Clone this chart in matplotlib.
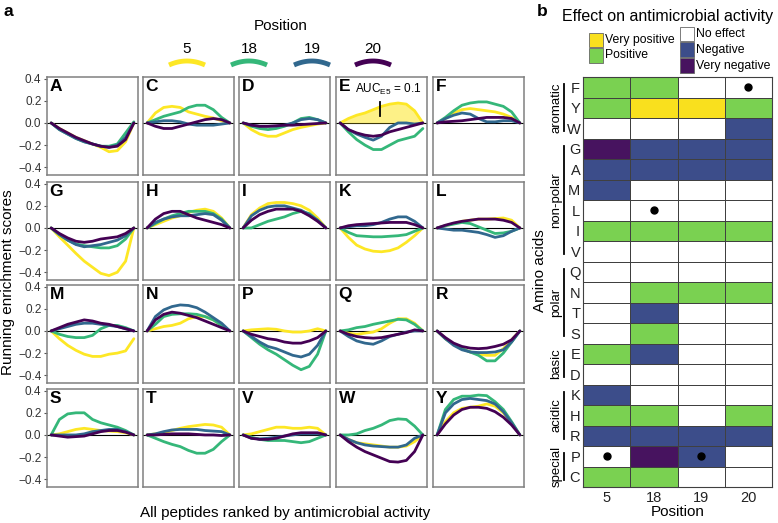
import numpy as np
import matplotlib
matplotlib.use("Agg")
import matplotlib.pyplot as plt
from matplotlib.colors import ListedColormap
from matplotlib.patches import Rectangle

plt.rcParams['font.family'] = ['Liberation Sans', 'DejaVu Sans']
plt.rcParams['mathtext.default'] = 'regular'

W, H = 778, 523

## ---------------- data : panel a (running enrichment scores) ----------------
residues  = ["A", "C", "D", "E", "F", "G", "H", "I", "K", "L",
             "M", "N", "P", "Q", "R", "S", "T", "V", "W", "Y"]
positions = ["5", "18", "19", "20"]
pos_colors = ["#FDE725", "#35B779", "#31688E", "#440154"]
rank = [0.0, 0.1, 0.2, 0.3, 0.4, 0.5, 0.6, 0.7, 0.8, 0.9, 1.0]

curve_5 = {
    "A": [0, -0.05, -0.09, -0.13, -0.16, -0.19, -0.22, -0.26, -0.25, -0.17, 0],
    "C": [0, 0.09, 0.14, 0.15, 0.14, 0.10, 0.08, 0.06, 0.045, 0.02, 0],
    "D": [0, -0.06, -0.10, -0.12, -0.12, -0.09, -0.06, -0.04, -0.025, -0.01, 0],
    "E": [0, 0.04, 0.07, 0.09, 0.12, 0.15, 0.17, 0.18, 0.17, 0.11, 0],
    "F": [0, 0.04, 0.09, 0.12, 0.13, 0.12, 0.11, 0.10, 0.08, 0.05, 0],
    "G": [0, -0.08, -0.155, -0.23, -0.30, -0.355, -0.41, -0.43, -0.40, -0.30, 0],
    "H": [0, 0.03, 0.06, 0.09, 0.11, 0.14, 0.16, 0.17, 0.15, 0.09, 0],
    "I": [0, 0.12, 0.18, 0.22, 0.23, 0.23, 0.22, 0.20, 0.16, 0.09, 0],
    "K": [0, -0.085, -0.155, -0.19, -0.21, -0.215, -0.205, -0.18, -0.13, -0.07, 0],
    "L": [0, 0.02, 0.04, 0.06, 0.07, 0.08, 0.08, 0.085, 0.09, 0.07, 0],
    "M": [0, -0.07, -0.13, -0.175, -0.21, -0.23, -0.23, -0.21, -0.20, -0.18, -0.07],
    "N": [0, 0.02, 0.04, 0.05, 0.07, 0.11, 0.13, 0.13, 0.10, 0.05, 0],
    "P": [0, 0.01, 0.015, 0.02, 0.015, 0.0, -0.01, -0.01, 0.0, 0.02, 0],
    "Q": [0, -0.02, -0.03, -0.02, -0.01, 0.02, 0.07, 0.11, 0.11, 0.07, 0],
    "R": [0, -0.07, -0.12, -0.16, -0.19, -0.21, -0.22, -0.22, -0.16, -0.08, 0],
    "S": [0, 0.01, 0.03, 0.05, 0.06, 0.05, 0.04, 0.035, 0.03, 0.02, 0],
    "T": [0, 0.01, 0.02, 0.04, 0.06, 0.075, 0.085, 0.095, 0.09, 0.07, 0],
    "V": [0, 0.01, 0.03, 0.05, 0.07, 0.07, 0.06, 0.06, 0.07, 0.06, 0],
    "W": [0, -0.04, -0.07, -0.08, -0.09, -0.10, -0.11, -0.11, -0.10, -0.06, 0],
    "Y": [0, 0.12, 0.20, 0.24, 0.25, 0.26, 0.28, 0.26, 0.20, 0.11, 0],
}
curve_18 = {
    "A": [0, -0.06, -0.10, -0.14, -0.17, -0.19, -0.21, -0.21, -0.19, -0.09, 0.01],
    "C": [0, 0.03, 0.06, 0.08, 0.10, 0.14, 0.16, 0.16, 0.12, 0.05, 0],
    "D": [0, -0.03, -0.05, -0.06, -0.05, -0.03, 0.0, 0.04, 0.05, 0.03, 0],
    "E": [0, -0.08, -0.15, -0.20, -0.24, -0.24, -0.20, -0.16, -0.14, -0.12, -0.05],
    "F": [0, 0.05, 0.11, 0.16, 0.18, 0.19, 0.19, 0.17, 0.15, 0.10, 0],
    "G": [0, -0.06, -0.11, -0.145, -0.16, -0.17, -0.18, -0.18, -0.16, -0.10, 0],
    "H": [0, 0.04, 0.08, 0.11, 0.13, 0.15, 0.15, 0.15, 0.13, 0.08, 0],
    "I": [0, 0.0, 0.03, 0.06, 0.08, 0.10, 0.13, 0.15, 0.13, 0.07, 0],
    "K": [0, -0.04, -0.07, -0.075, -0.08, -0.08, -0.075, -0.07, -0.06, -0.03, 0],
    "L": [0, 0.02, 0.035, 0.05, 0.04, 0.01, -0.02, -0.05, -0.045, -0.03, 0],
    "M": [0, -0.03, -0.05, -0.06, -0.06, -0.04, 0.02, 0.05, 0.05, 0.03, 0],
    "N": [0, 0.06, 0.13, 0.15, 0.155, 0.155, 0.15, 0.13, 0.10, 0.05, 0],
    "P": [0, -0.06, -0.12, -0.17, -0.21, -0.26, -0.31, -0.35, -0.32, -0.21, 0],
    "Q": [0, 0.01, 0.03, 0.04, 0.06, 0.075, 0.09, 0.105, 0.10, 0.06, 0],
    "R": [0, -0.07, -0.12, -0.16, -0.19, -0.22, -0.27, -0.27, -0.20, -0.10, 0],
    "S": [0, 0.14, 0.19, 0.20, 0.20, 0.14, 0.11, 0.09, 0.07, 0.04, 0],
    "T": [0, -0.03, -0.06, -0.085, -0.105, -0.14, -0.165, -0.165, -0.13, -0.06, 0],
    "V": [0, -0.02, -0.04, -0.05, -0.05, -0.05, -0.06, -0.07, -0.06, -0.03, 0],
    "W": [0, 0.0, 0.01, 0.04, 0.06, 0.09, 0.13, 0.145, 0.14, 0.08, 0],
    "Y": [0, 0.23, 0.32, 0.35, 0.35, 0.36, 0.355, 0.30, 0.23, 0.12, 0],
}
curve_19 = {
    "A": [0, -0.06, -0.10, -0.14, -0.17, -0.19, -0.21, -0.22, -0.20, -0.13, 0],
    "C": [0, 0.01, 0.02, 0.02, 0.01, -0.01, -0.02, -0.02, -0.02, -0.01, 0],
    "D": [0, -0.02, -0.03, -0.03, -0.03, -0.02, 0.0, 0.03, 0.04, 0.03, 0],
    "E": [0, -0.06, -0.10, -0.13, -0.155, -0.12, -0.04, 0.0, 0.0, -0.01, 0],
    "F": [0, 0.04, 0.07, 0.09, 0.08, 0.04, 0.01, 0.01, 0.02, 0.02, 0],
    "G": [0, -0.06, -0.11, -0.15, -0.17, -0.16, -0.15, -0.13, -0.11, -0.07, 0],
    "H": [0, 0.05, 0.08, 0.10, 0.11, 0.11, 0.12, 0.13, 0.12, 0.07, 0],
    "I": [0, 0.11, 0.16, 0.19, 0.20, 0.20, 0.18, 0.16, 0.12, 0.07, 0],
    "K": [0, 0.01, 0.02, 0.02, 0.03, 0.05, 0.08, 0.10, 0.10, 0.06, 0],
    "L": [0, -0.01, -0.02, -0.02, -0.03, -0.04, -0.06, -0.085, -0.07, -0.03, 0],
    "M": [0, 0.02, 0.04, 0.06, 0.07, 0.07, 0.06, 0.05, 0.04, 0.02, 0],
    "N": [0, 0.13, 0.19, 0.22, 0.235, 0.23, 0.21, 0.17, 0.12, 0.07, 0],
    "P": [0, -0.05, -0.10, -0.14, -0.16, -0.19, -0.22, -0.235, -0.21, -0.13, 0],
    "Q": [0, -0.05, -0.09, -0.11, -0.12, -0.09, -0.05, -0.03, -0.01, 0.0, 0],
    "R": [0, -0.07, -0.13, -0.17, -0.19, -0.195, -0.195, -0.19, -0.17, -0.10, 0],
    "S": [0, 0.0, 0.0, 0.0, 0.01, 0.03, 0.04, 0.05, 0.05, 0.03, 0],
    "T": [0, 0.01, 0.03, 0.045, 0.05, 0.05, 0.05, 0.04, 0.035, 0.03, 0],
    "V": [0, -0.03, -0.035, -0.03, -0.02, -0.01, 0.0, 0.01, 0.01, 0.01, 0],
    "W": [0, -0.04, -0.07, -0.09, -0.10, -0.105, -0.11, -0.11, -0.09, -0.03, 0],
    "Y": [0, 0.20, 0.28, 0.32, 0.33, 0.32, 0.31, 0.28, 0.21, 0.11, 0],
}
curve_20 = {
    "A": [0, -0.05, -0.09, -0.13, -0.16, -0.19, -0.21, -0.22, -0.21, -0.15, 0],
    "C": [0, -0.03, -0.05, -0.05, -0.03, -0.01, 0.01, 0.03, 0.04, 0.03, 0],
    "D": [0, -0.02, -0.03, -0.03, -0.025, -0.02, -0.02, -0.015, -0.01, -0.005, 0],
    "E": [0, -0.06, -0.09, -0.11, -0.12, -0.11, -0.08, -0.06, -0.04, -0.02, 0],
    "F": [0, 0.01, 0.015, 0.02, 0.03, 0.04, 0.05, 0.05, 0.05, 0.04, 0],
    "G": [0, -0.05, -0.09, -0.12, -0.13, -0.12, -0.10, -0.09, -0.08, -0.05, 0],
    "H": [0, 0.08, 0.13, 0.15, 0.15, 0.12, 0.09, 0.07, 0.05, 0.03, 0],
    "I": [0, 0.07, 0.12, 0.15, 0.17, 0.17, 0.17, 0.15, 0.11, 0.06, 0],
    "K": [0, 0.02, 0.03, 0.035, 0.04, 0.045, 0.05, 0.05, 0.05, 0.03, 0],
    "L": [0, 0.025, 0.045, 0.06, 0.07, 0.08, 0.08, 0.08, 0.07, 0.05, 0],
    "M": [0, 0.03, 0.06, 0.08, 0.10, 0.09, 0.07, 0.06, 0.04, 0.02, 0],
    "N": [0, 0.10, 0.15, 0.17, 0.16, 0.14, 0.12, 0.09, 0.06, 0.03, 0],
    "P": [0, -0.03, -0.05, -0.07, -0.08, -0.10, -0.11, -0.11, -0.09, -0.06, 0],
    "Q": [0, -0.03, -0.05, -0.06, -0.065, -0.06, -0.045, -0.03, -0.015, 0.01, 0],
    "R": [0, -0.06, -0.11, -0.14, -0.155, -0.16, -0.155, -0.14, -0.12, -0.08, 0],
    "S": [0, -0.01, -0.02, -0.015, -0.01, 0.01, 0.03, 0.04, 0.04, 0.025, 0],
    "T": [0, 0.0, 0.005, 0.01, 0.01, 0.01, 0.005, 0.0, 0.0, -0.005, 0],
    "V": [0, -0.03, -0.04, -0.04, -0.03, -0.01, 0.01, 0.02, 0.02, 0.02, 0],
    "W": [0, -0.06, -0.11, -0.15, -0.18, -0.21, -0.24, -0.245, -0.23, -0.15, 0],
    "Y": [0, 0.10, 0.18, 0.23, 0.25, 0.25, 0.24, 0.21, 0.16, 0.09, 0],
}
curves = [curve_5, curve_18, curve_19, curve_20]

## ---------------- data : panel b (effect heatmap) ----------------
hm_rows = ["F", "Y", "W", "G", "A", "M", "L", "I", "V", "Q",
           "N", "T", "S", "E", "D", "K", "H", "R", "P", "C"]
effect_5  = ["+", "+", "0", "--", "-", "-", "0", "+", "0", "0",
             "0", "0", "0", "+", "0", "-", "+", "-", "0", "+"]
effect_18 = ["+", "++", "0", "-", "-", "0", "0", "+", "0", "0",
             "+", "-", "+", "-", "0", "0", "+", "-", "--", "+"]
effect_19 = ["0", "++", "0", "-", "-", "0", "0", "+", "0", "0",
             "+", "0", "0", "0", "0", "0", "0", "-", "-", "0"]
effect_20 = ["0", "+", "-", "-", "-", "0", "0", "+", "0", "0",
             "+", "0", "0", "0", "0", "0", "+", "-", "0", "0"]
dots = [("F", "20"), ("L", "18"), ("P", "5"), ("P", "19")]
group_names = ["aromatic", "non-polar", "polar", "basic", "acidic", "special"]
group_first = ["F", "G", "Q", "E", "K", "P"]
group_last  = ["W", "V", "S", "D", "R", "C"]
effect_names  = ["Very negative", "Negative", "No effect", "Positive", "Very positive"]
effect_codes  = ["--", "-", "0", "+", "++"]
effect_colors = ["#47135F", "#3C4D8A", "#FFFFFF", "#7AD151", "#F9E01E"]

## ---------------- figure ----------------
fig = plt.figure(figsize=(W/100, H/100), dpi=100)

def px_rect(x0, y0, w, h):
    return [x0/W, 1-(y0+h)/H, w/W, h/H]

col_left = [47, 143, 239, 336, 433]
row_top  = [77, 182, 285, 389]
pw, ph   = 91, 98

for i, aa in enumerate(residues):
    r, c = divmod(i, 5)
    ax = fig.add_axes(px_rect(col_left[c], row_top[r], pw, ph))
    ax.axhline(0, color='black', lw=0.8, zorder=1)
    if aa == "E":
        ax.fill_between(rank, 0, curve_5[aa], color=pos_colors[0], alpha=0.55, lw=0, zorder=1.5)
    for k in range(4):
        ax.plot(rank, curves[k][aa], color=pos_colors[k], lw=2.0,
                solid_capstyle='round', solid_joinstyle='round', zorder=2+k)
    ax.set_xlim(-0.05, 1.05)
    ax.set_ylim(-0.47, 0.415)
    ax.set_xticks([])
    ax.set_yticks([-0.4, -0.2, 0.0, 0.2, 0.4])
    for s in ax.spines.values():
        s.set_color('#808080')
        s.set_linewidth(1.1)
    if c == 0:
        ax.set_yticklabels(['\u22120.4', '\u22120.2', '0.0', '0.2', '0.4'])
        ax.tick_params(axis='y', length=2.5, color='#555555', labelsize=8.5,
                       labelcolor='#333333', pad=1.5)
    else:
        ax.tick_params(axis='y', left=False, labelleft=False)
    ax.text(0.03, 0.975, aa, transform=ax.transAxes, ha='left', va='top',
            fontsize=12.5, fontweight='bold')
    if aa == "E":
        ax.plot([0.48, 0.48], [0.065, 0.19], color='black', lw=1.3, zorder=7)
        ax.text(0.18, 0.305, "AUC$_{E5}$ = 0.1", fontsize=8.5, ha='left', va='center')

fig.text(8/W, 1-282/H, "Running enrichment scores", rotation=90, ha='center',
         va='center', fontsize=11)
fig.text(285/W, 1-513/H, "All peptides ranked by antimicrobial activity",
         ha='center', va='center', fontsize=11)
fig.text(3/W, 1-12/H, "a", fontsize=12.5, fontweight='bold', va='center')
fig.text(537/W, 1-11/H, "b", fontsize=12.5, fontweight='bold', va='center')

## overlay for legends (pixel coordinates)
ov = fig.add_axes([0, 0, 1, 1])
ov.set_xlim(0, W)
ov.set_ylim(H, 0)
ov.axis('off')
ov.text(281, 26, "Position", ha='center', va='center', fontsize=11)
key_x = [187, 249, 312, 373]
t = np.linspace(-1, 1, 30)
for k in range(4):
    ov.text(key_x[k], 49, positions[k], ha='center', va='center', fontsize=11)
    ov.plot(key_x[k] + 18*t, 61 + 4*t**2, color=pos_colors[k], lw=3.5,
            solid_capstyle='butt')

## panel b legend
ov.text(668, 16, "Effect on antimicrobial activity", ha='center', va='center', fontsize=11.5)
legend_boxes = [("Very positive", 589, 33, 14), ("Positive", 589, 48, 15),
                ("No effect", 680, 27, 14), ("Negative", 680, 42, 15),
                ("Very negative", 680, 58, 15)]
for name, lx, ly, lh in legend_boxes:
    col = effect_colors[effect_names.index(name)]
    ov.add_patch(Rectangle((lx, ly), 14, lh, facecolor=col, edgecolor='#666666', lw=0.6))
    ov.text(lx + 16, ly + lh/2, name, ha='left', va='center', fontsize=8.8)

## heatmap
hx = fig.add_axes(px_rect(583, 77, 189, 410))
cols = [effect_5, effect_18, effect_19, effect_20]
Z = np.array([[effect_codes.index(cols[j][i]) for j in range(4)] for i in range(len(hm_rows))])
hx.pcolormesh(np.arange(5), np.arange(len(hm_rows)+1), Z,
              cmap=ListedColormap(effect_colors), vmin=-0.5, vmax=4.5,
              edgecolors='#404040', linewidth=0.7)
for aa, p in dots:
    hx.plot(positions.index(p) + 0.5, hm_rows.index(aa) + 0.5, 'o', color='black', ms=5)
hx.set_xlim(0, 4)
hx.set_ylim(len(hm_rows), 0)
hx.set_xticks(np.arange(4) + 0.5, positions)
hx.set_yticks(np.arange(len(hm_rows)) + 0.5, hm_rows)
hx.tick_params(length=0, labelsize=10.5, labelcolor='#222222')
hx.tick_params(axis='y', pad=2)
hx.tick_params(axis='x', pad=3)
hx.set_xlabel("Position", fontsize=11, labelpad=0)
for s in hx.spines.values():
    s.set_color('#404040')
    s.set_linewidth(0.8)
trans = hx.get_yaxis_transform()
for name, first, last in zip(group_names, group_first, group_last):
    i0, i1 = hm_rows.index(first), hm_rows.index(last)
    hx.plot([-0.10, -0.10], [i0 + 0.35, i1 + 0.65], color='black', lw=1.3,
            transform=trans, clip_on=False)
    hx.text(-0.14, (i0 + i1 + 1)/2, name, rotation=90, ha='center', va='center',
            fontsize=9.5, transform=trans)
hx.text(-0.225, 0.527, "Amino acids", rotation=90, ha='center', va='center',
        fontsize=11, transform=hx.transAxes)

fig.savefig("out.png", dpi=100)
